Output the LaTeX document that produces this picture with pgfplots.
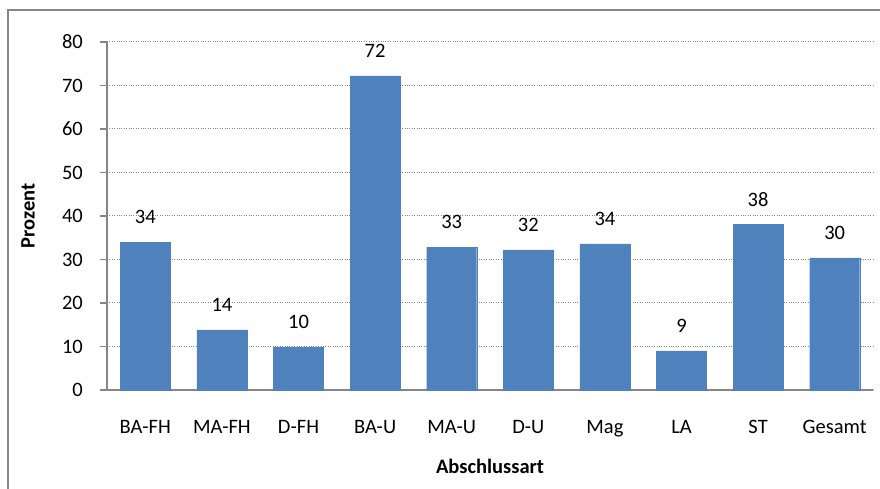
\documentclass[border=0pt]{standalone}
\usepackage{fontspec}
\setmainfont{Carlito}
\usepackage{pgfplots}
\pgfplotsset{compat=1.18}
\definecolor{barblue}{HTML}{4F81BD}
\definecolor{axgray}{HTML}{868686}
\begin{document}
\fontsize{20.5}{24}\selectfont
\begin{tikzpicture}[x=1pt,y=1pt]
\path[use as bounding box] (0,0) rectangle (880,489);
\draw[axgray, line width=2pt] (8,0) -- (8,479) -- (880,479);
\begin{axis}[
  at={(107pt,99pt)}, anchor=south west,
  scale only axis, width=766pt, height=348pt,
  xmin=-0.5, xmax=9.5, ymin=0, ymax=80,
  ytick={0,10,...,80},
  xtick={0,...,9},
  xticklabels={BA-FH,MA-FH,D-FH,BA-U,MA-U,D-U,Mag,LA,ST,Gesamt},
  axis lines*=left,
  axis line style={axgray, line width=1.5pt, -},
  ymajorgrids,
  grid style={axgray, dotted, line width=1pt},
  major x tick style={draw=none},
  major y tick style={axgray, line width=1.5pt},
  tick align=outside, major tick length=7pt,
  /pgf/number format/assume math mode=true,
  yticklabel style={font=\fontsize{20.5}{24}\selectfont, inner sep=0pt, xshift=-17pt},
  xticklabel style={font=\fontsize{20.5}{24}\selectfont, yshift=-16pt},
  ylabel={\textbf{Prozent}},
  xlabel={\textbf{Abschlussart}},
  ylabel style={font=\fontsize{20.5}{24}\selectfont, at={(axis description cs:0,0.5)}, anchor=center, rotate=0, yshift=79pt},
  xlabel style={font=\fontsize{20.5}{24}\selectfont, at={(axis description cs:0.5,0)}, anchor=center, yshift=-76pt},
  clip=false,
]
\addplot[ybar, bar width=50pt, fill=barblue, draw=barblue,
  nodes near coords={\pgfmathprintnumber[fixed,precision=0]{\pgfplotspointmeta}},
  nodes near coords style={anchor=center, yshift=25pt, font=\fontsize{20.5}{24}\selectfont, text=black},
  point meta=y]
  coordinates {(0,34.0) (1,13.8) (2,9.9) (3,72.2) (4,32.8) (5,32.2) (6,33.6) (7,9.0) (8,38.1) (9,30.4)};
\end{axis}
\end{tikzpicture}
\end{document}
